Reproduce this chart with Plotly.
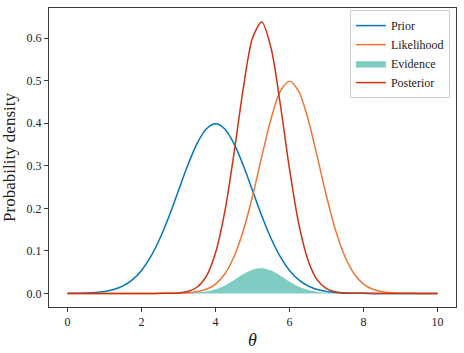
import plotly.graph_objects as go

theta = [i * 0.25 for i in range(41)]

prior = [0.0001, 0.0004, 0.0009, 0.0020, 0.0044, 0.0091, 0.0175, 0.0317, 0.0540, 0.0863,
         0.1295, 0.1826, 0.2420, 0.3011, 0.3521, 0.3867, 0.3989, 0.3867, 0.3521, 0.3011,
         0.2420, 0.1826, 0.1295, 0.0863, 0.0540, 0.0317, 0.0175, 0.0091, 0.0044, 0.0020,
         0.0009, 0.0004, 0.0001, 0.0, 0.0, 0.0, 0.0, 0.0, 0.0, 0.0, 0.0]

likelihood = [0.0, 0.0, 0.0, 0.0, 0.0, 0.0, 0.0, 0.0, 0.0, 0.0,
              0.0, 0.0001, 0.0004, 0.0014, 0.0038, 0.0096, 0.0219, 0.0456, 0.0860, 0.1471,
              0.2283, 0.3214, 0.4102, 0.4749, 0.4987, 0.4749, 0.4102, 0.3214, 0.2283, 0.1471,
              0.0860, 0.0456, 0.0219, 0.0096, 0.0038, 0.0014, 0.0004, 0.0001, 0.0, 0.0, 0.0]

evidence = [0.0, 0.0, 0.0, 0.0, 0.0, 0.0, 0.0, 0.0, 0.0, 0.0,
            0.0, 0.0, 0.0001, 0.0004, 0.0013, 0.0037, 0.0087, 0.0176, 0.0303, 0.0443,
            0.0552, 0.0587, 0.0531, 0.0410, 0.0269, 0.0151, 0.0072, 0.0029, 0.0010, 0.0003,
            0.0001, 0.0, 0.0, 0.0, 0.0, 0.0, 0.0, 0.0, 0.0, 0.0, 0.0]

posterior = [0.0, 0.0, 0.0, 0.0, 0.0, 0.0, 0.0, 0.0, 0.0, 0.0,
             0.00005, 0.0003, 0.0012, 0.0044, 0.0144, 0.0401, 0.0950, 0.1915, 0.3290, 0.4814,
             0.6003, 0.6378, 0.5774, 0.4453, 0.2925, 0.1638, 0.0781, 0.0317, 0.0110, 0.0032,
             0.0008, 0.0002, 0.00005, 0.0, 0.0, 0.0, 0.0, 0.0, 0.0, 0.0, 0.0]

x_ticks = [0, 2, 4, 6, 8, 10]
y_ticks = [0.0, 0.1, 0.2, 0.3, 0.4, 0.5, 0.6]

FONT = "Liberation Serif, DejaVu Serif, serif"

fig = go.Figure()
fig.add_trace(go.Scatter(x=theta, y=evidence, name="Evidence", mode="lines",
                         fill="tozeroy", fillcolor="rgba(0,153,136,0.5)",
                         line=dict(color="rgba(0,153,136,0.5)", width=0.5, shape="spline", smoothing=0.8),
                         legendrank=3))
fig.add_trace(go.Scatter(x=theta, y=prior, name="Prior", mode="lines",
                         line=dict(color="#0077BB", width=1.5, shape="spline", smoothing=0.8),
                         legendrank=1))
fig.add_trace(go.Scatter(x=theta, y=likelihood, name="Likelihood", mode="lines",
                         line=dict(color="#EE7733", width=1.5, shape="spline", smoothing=0.8),
                         legendrank=2))
fig.add_trace(go.Scatter(x=theta, y=posterior, name="Posterior", mode="lines",
                         line=dict(color="#CC3311", width=1.5, shape="spline", smoothing=0.8),
                         legendrank=4))

axis_common = dict(showline=True, linecolor="#3a3a3a", linewidth=1, mirror=True,
                   ticks="outside", ticklen=4, tickwidth=1, tickcolor="#3a3a3a",
                   showgrid=False, zeroline=False,
                   tickfont=dict(family=FONT, size=12, color="#222222"))

fig.update_xaxes(range=[-0.5, 10.5], tickvals=x_ticks, ticktext=[str(v) for v in x_ticks],
                 title=dict(text="<i>θ</i>", font=dict(family=FONT, size=18, color="#222222"), standoff=4),
                 **axis_common)
fig.update_yaxes(range=[-0.032, 0.671], tickvals=y_ticks, ticktext=[f"{v:.1f}" for v in y_ticks],
                 title=dict(text="Probability density", font=dict(family=FONT, size=17, color="#222222"), standoff=7),
                 **axis_common)

fig.update_layout(
    width=464, height=353,
    margin=dict(l=49, r=7, t=7, b=42),
    plot_bgcolor="white", paper_bgcolor="white",
    showlegend=True,
    legend=dict(x=0.985, y=0.993, xanchor="right", yanchor="top",
                bgcolor="rgba(255,255,255,0.8)", bordercolor="#cccccc", borderwidth=1,
                font=dict(family=FONT, size=12, color="#222222"),
                tracegroupgap=0, itemwidth=30),
)

fig.write_html("out.html")
